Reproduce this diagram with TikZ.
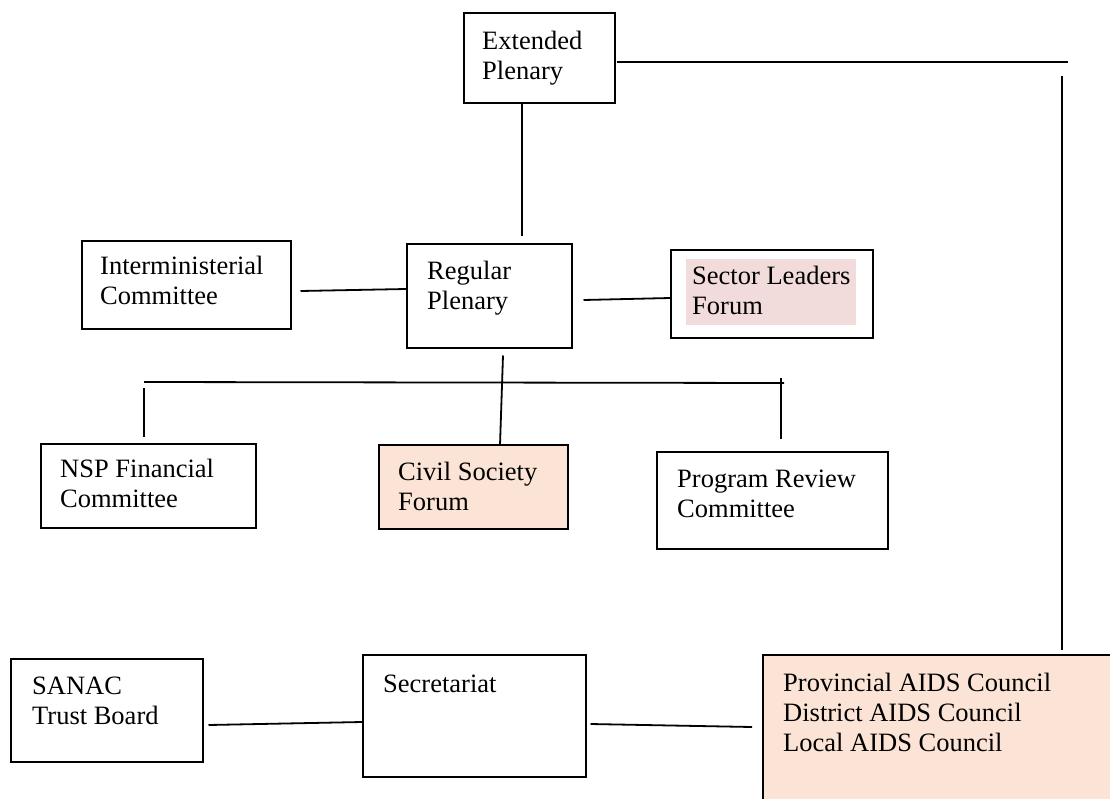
\documentclass[tikz,border=0pt]{standalone}
\usepackage{fontspec}
\setmainfont{Liberation Serif}
\usetikzlibrary{calc}
\definecolor{peach}{HTML}{FBE4D5}
\definecolor{rosy}{HTML}{F2DCDB}
\begin{document}
\begin{tikzpicture}[x=1pt,y=-1pt,
  box/.style={draw, line width=1.5pt, anchor=north west, inner sep=0pt},
  txt/.style={anchor=north west, inner sep=0pt, align=left, font=\fontsize{26.5}{30}\selectfont},
  conn/.style={line width=1.8pt}]
\useasboundingbox (0,0) rectangle (1110,798);
% boxes
\node[box, minimum width=151pt, minimum height=90pt] (ext) at (463,12) {};
\node[box, minimum width=165pt, minimum height=104pt] (reg) at (406,243) {};
\node[box, minimum width=209pt, minimum height=88pt] (inter) at (81,240) {};
\node[box, minimum width=202pt, minimum height=88pt] (sector) at (670,249) {};
\node[anchor=north west, inner sep=0pt, fill=rosy, minimum width=170pt, minimum height=66pt] (sechl) at (686,259) {};
\node[box, minimum width=215pt, minimum height=84pt] (nsp) at (40,443) {};
\node[box, fill=peach, minimum width=189pt, minimum height=84pt] (civil) at (378,444) {};
\node[box, minimum width=231pt, minimum height=97pt] (prog) at (656,451) {};
\node[box, minimum width=192pt, minimum height=103pt] (sanac) at (10,658) {};
\node[box, minimum width=223pt, minimum height=122pt] (secr) at (362,654) {};
\node[box, fill=peach, minimum width=420pt, minimum height=220pt] (prov) at (762,654) {};
% texts
\node[txt] (ext-t) at (482,28) {\strut Extended\\Plenary};
\node[txt] (reg-t) at (427,258) {\strut Regular\\Plenary};
\node[txt] (inter-t) at (100,253) {\strut Interministerial\\Committee};
\node[txt] (sector-t) at (692,263) {\strut Sector Leaders\\Forum};
\node[txt] (nsp-t) at (60,456) {\strut NSP Financial\\Committee};
\node[txt] (civil-t) at (398,459) {\strut Civil Society\\Forum};
\node[txt] (prog-t) at (677,466) {\strut Program Review\\Committee};
\node[txt] (sanac-t) at (32,673) {\strut SANAC\\Trust Board};
\node[txt] (secr-t) at (383,671) {\strut Secretariat};
\node[txt] (prov-t) at (783,670) {\strut Provincial AIDS Council\\District AIDS Council\\Local AIDS Council};
% free ends
\coordinate (rtop) at (1068,62);
\coordinate (vtop) at (1062,76);
\coordinate (hl) at (144,382);
\coordinate (hr) at (784,383);
\coordinate (tl) at (144,388);
\coordinate (tr) at (781,378);
% connectors
\draw[conn] ($(ext.south west)+(59,0)$) -- ($(reg.north west)+(116,-7)$);
\draw[conn] ($(ext.north east)+(1,50)$) -- (rtop);
\draw[conn] (vtop) -- ($(prov.north west)+(300,-4)$);
\draw[conn] ($(inter.north east)+(9,51)$) -- ($(reg.north west)+(0,46)$);
\draw[conn] ($(reg.north east)+(11,57)$) -- ($(sector.north west)+(0,49)$);
\draw[conn] (hl) -- (hr);
\draw[conn] (tl) -- ($(nsp.north west)+(104,-6)$);
\draw[conn] (tr) -- ($(prog.north west)+(125,-12)$);
\draw[conn] ($(reg.south west)+(97,7)$) -- ($(civil.north west)+(122,1)$);
\draw[conn] ($(sanac.north east)+(5,67)$) -- ($(secr.north west)+(0,68)$);
\draw[conn] ($(secr.north east)+(4,70)$) -- ($(prov.north west)+(-10,73)$);
\end{tikzpicture}
\end{document}
